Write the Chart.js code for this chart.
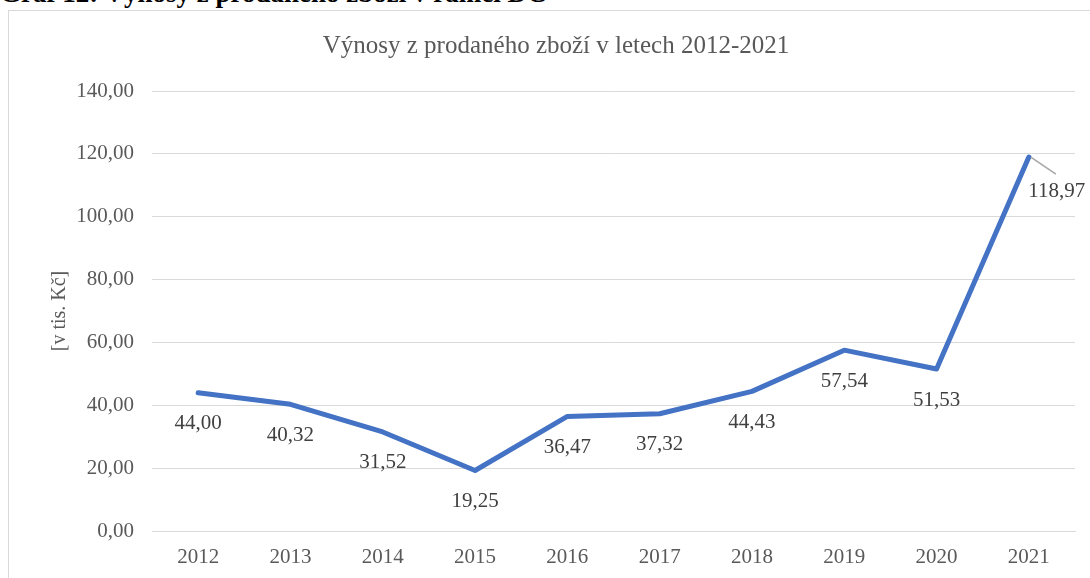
<!DOCTYPE html>
<html lang="cs">
<head>
<meta charset="UTF-8">
<title>Výnosy z prodaného zboží</title>
<script src="https://cdn.jsdelivr.net/npm/chart.js"></script>
<style>
  body { margin: 0; background: #fff; overflow: hidden; }
  .caption {
    position: absolute; left: 0; top: -22px;
    font: bold 27px "Liberation Serif", "Times New Roman", serif;
    color: #000; white-space: nowrap;
  }
  .chart-box {
    position: absolute; left: 8px; top: 10px;
    width: 1100px; height: 600px;
    border: 1px solid #d9d9d9;
  }
  .chart-box canvas { position: absolute; left: 0; top: 0; }
</style>
</head>
<body>
<div class="caption">Graf 12: Výnosy z prodaného zboží v rámci DC</div>
<div class="chart-box">
  <canvas id="chart" width="1081" height="567"></canvas>
</div>
<script>
  // data
  const years = ['2012', '2013', '2014', '2015', '2016', '2017', '2018', '2019', '2020', '2021'];
  const revenue = [44.00, 40.32, 31.52, 19.25, 36.47, 37.32, 44.43, 57.54, 51.53, 118.97];
  const chartTitle = 'Výnosy z prodaného zboží v letech 2012-2021';
  const yTitle = '[v tis. Kč]';

  const serif = '"Liberation Serif", "Times New Roman", serif';
  const fmt = v => v.toFixed(2).replace('.', ',');

  // title, axis title and the value labels under the points
  const textPlugin = {
    id: 'texts',
    afterDraw(chart) {
      const ctx = chart.ctx;
      ctx.save();
      ctx.fillStyle = '#595959';
      ctx.font = '25px ' + serif;
      ctx.textAlign = 'center';
      ctx.textBaseline = 'middle';
      ctx.fillText(chartTitle, 547, 35);

      ctx.save();
      ctx.translate(51, 300);
      ctx.rotate(-Math.PI / 2);
      ctx.font = '20px ' + serif;
      ctx.fillText(yTitle, 0, 0);
      ctx.restore();

      const meta = chart.getDatasetMeta(0);
      ctx.font = '21px ' + serif;
      ctx.fillStyle = '#404040';
      meta.data.forEach((pt, i) => {
        const txt = fmt(revenue[i]);
        if (i === meta.data.length - 1) {
          ctx.strokeStyle = '#a6a6a6';
          ctx.lineWidth = 1.5;
          ctx.beginPath();
          ctx.moveTo(pt.x + 2, pt.y);
          ctx.lineTo(pt.x + 27, pt.y + 17);
          ctx.stroke();
          ctx.fillText(txt, pt.x + 28, pt.y + 34);
        } else {
          ctx.fillText(txt, pt.x, pt.y + 31);
        }
      });
      ctx.restore();
    }
  };

  new Chart(document.getElementById('chart'), {
    type: 'line',
    data: {
      labels: years,
      datasets: [{
        data: revenue,
        borderColor: '#4472c4',
        borderWidth: 5,
        borderJoinStyle: 'round',
        borderCapStyle: 'round',
        pointRadius: 0,
        tension: 0,
        fill: false
      }]
    },
    options: {
      responsive: false,
      animation: false,
      layout: { padding: { top: 80, right: 15, left: 0, bottom: 0 } },
      plugins: {
        legend: { display: false },
        tooltip: { enabled: false },
        title: { display: false }
      },
      scales: {
        x: {
          offset: true,
          grid: { display: false, drawTicks: false },
          border: { color: '#d9d9d9', width: 1 },
          ticks: { color: '#595959', font: { family: serif, size: 21 }, padding: 14 },
          afterFit(scale) { scale.height = 47; }
        },
        y: {
          min: 0,
          max: 140,
          grid: { color: '#d9d9d9', lineWidth: 1, drawTicks: false },
          border: { display: false },
          ticks: {
            stepSize: 20,
            color: '#595959',
            font: { family: serif, size: 21 },
            padding: 18,
            callback: v => fmt(v)
          },
          afterFit(scale) { scale.width = 143; }
        }
      }
    },
    plugins: [textPlugin]
  });
</script>
</body>
</html>
